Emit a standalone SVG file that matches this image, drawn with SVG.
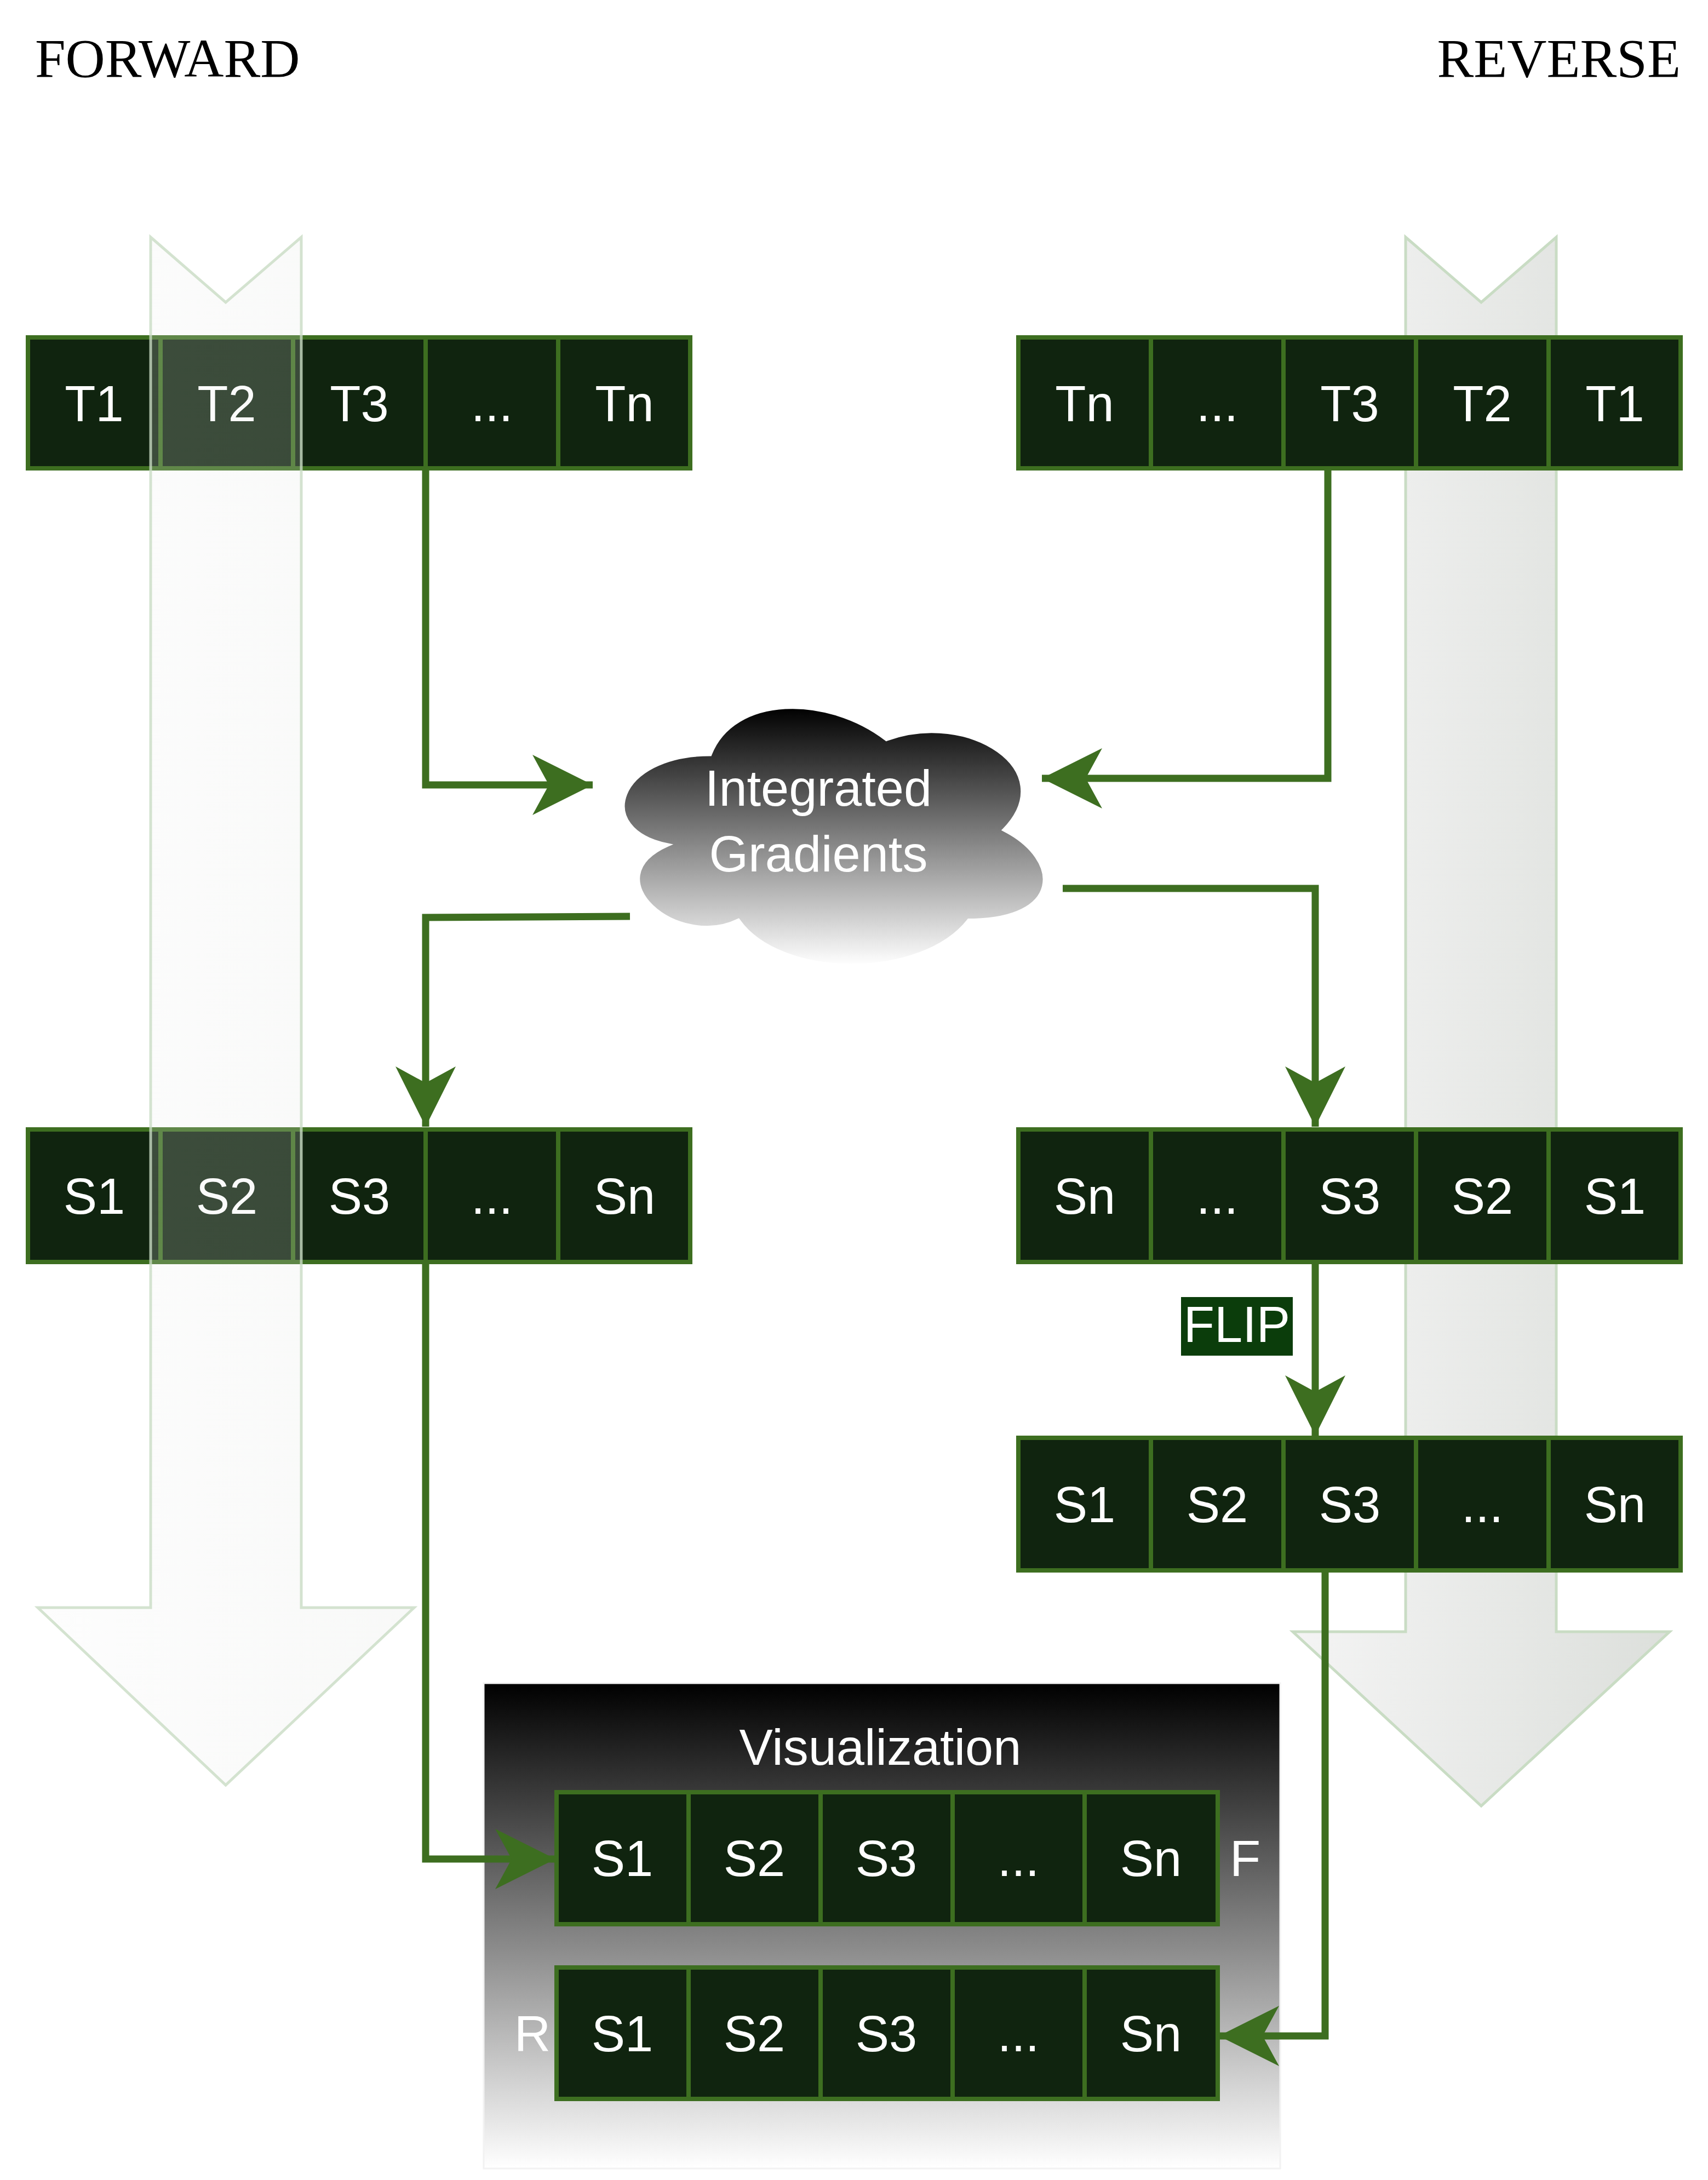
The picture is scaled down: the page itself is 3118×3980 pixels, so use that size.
<svg xmlns="http://www.w3.org/2000/svg" width="3118" height="3980" viewBox="0 0 3118 3980">
<style>
.cell{fill:#10240f;stroke:#3d6e20;stroke-width:8}
.ct{font-family:"Liberation Sans",Arial,sans-serif;font-size:92px;fill:#fff;text-anchor:middle}
.ttl{font-family:"Liberation Serif","Times New Roman",serif;font-size:100px;fill:#000}
.con{fill:none;stroke:#3d6e20;stroke-width:13;marker-end:url(#ah)}
.big{stroke:#c9dcc4;stroke-width:5}
</style>
<defs>
<marker id="ah" markerUnits="userSpaceOnUse" markerWidth="120" markerHeight="120" viewBox="0 -60 120 120" refX="110" refY="0" orient="auto">
<path d="M0,-55 L110,0 L0,55 L30,0 Z" fill="#3d6e20"/>
</marker>
<linearGradient id="ga" x1="0" y1="0" x2="1" y2="0"><stop offset="0" stop-color="#f4f4f4"/><stop offset="1" stop-color="#dcdfdb"/></linearGradient>
<linearGradient id="gv" x1="0" y1="0" x2="0" y2="1"><stop offset="0" stop-color="#000"/><stop offset="1" stop-color="#fff"/></linearGradient>
</defs>
<text class="ttl" x="64" y="140">FORWARD</text>
<text class="ttl" x="3068" y="140" text-anchor="end">REVERSE</text>

<g id="rev-arrow"><path class="big" fill="url(#ga)" d="M2566,433 L2704,552 L2841,433 L2841,2979 L3048,2979 L2704,3297 L2360,2979 L2566,2979 Z"/></g>

<g id="t-fwd">
<rect class="cell" x="51" y="616" width="242" height="239"/><text class="ct" x="172" y="769">T1</text>
<rect class="cell" x="293" y="616" width="242" height="239"/><text class="ct" x="414" y="769">T2</text>
<rect class="cell" x="535" y="616" width="242" height="239"/><text class="ct" x="656" y="769">T3</text>
<rect class="cell" x="777" y="616" width="242" height="239"/><text class="ct" x="898" y="769">...</text>
<rect class="cell" x="1019" y="616" width="241" height="239"/><text class="ct" x="1140" y="769">Tn</text>
</g>
<g id="s-fwd">
<rect class="cell" x="51" y="2062" width="242" height="242"/><text class="ct" x="172" y="2216">S1</text>
<rect class="cell" x="293" y="2062" width="242" height="242"/><text class="ct" x="414" y="2216">S2</text>
<rect class="cell" x="535" y="2062" width="242" height="242"/><text class="ct" x="656" y="2216">S3</text>
<rect class="cell" x="777" y="2062" width="242" height="242"/><text class="ct" x="898" y="2216">...</text>
<rect class="cell" x="1019" y="2062" width="241" height="242"/><text class="ct" x="1140" y="2216">Sn</text>
</g>
<g id="fwd-arrow"><path class="big" fill="url(#ga)" fill-opacity="0.2" stroke-opacity="0.8" d="M275,433 L412,552 L550,433 L550,2935 L756,2935 L412,3259 L69,2935 L275,2935 Z"/></g>

<g id="t-rev">
<rect class="cell" x="1859" y="616" width="242" height="239"/><text class="ct" x="1980" y="769">Tn</text>
<rect class="cell" x="2101" y="616" width="242" height="239"/><text class="ct" x="2222" y="769">...</text>
<rect class="cell" x="2343" y="616" width="242" height="239"/><text class="ct" x="2464" y="769">T3</text>
<rect class="cell" x="2585" y="616" width="242" height="239"/><text class="ct" x="2706" y="769">T2</text>
<rect class="cell" x="2827" y="616" width="241" height="239"/><text class="ct" x="2948" y="769">T1</text>
</g>
<g id="s-rev">
<rect class="cell" x="1859" y="2062" width="242" height="242"/><text class="ct" x="1980" y="2216">Sn</text>
<rect class="cell" x="2101" y="2062" width="242" height="242"/><text class="ct" x="2222" y="2216">...</text>
<rect class="cell" x="2343" y="2062" width="242" height="242"/><text class="ct" x="2464" y="2216">S3</text>
<rect class="cell" x="2585" y="2062" width="242" height="242"/><text class="ct" x="2706" y="2216">S2</text>
<rect class="cell" x="2827" y="2062" width="241" height="242"/><text class="ct" x="2948" y="2216">S1</text>
</g>
<g id="s-flip">
<rect class="cell" x="1859" y="2625" width="242" height="242"/><text class="ct" x="1980" y="2779">S1</text>
<rect class="cell" x="2101" y="2625" width="242" height="242"/><text class="ct" x="2222" y="2779">S2</text>
<rect class="cell" x="2343" y="2625" width="242" height="242"/><text class="ct" x="2464" y="2779">S3</text>
<rect class="cell" x="2585" y="2625" width="242" height="242"/><text class="ct" x="2706" y="2779">...</text>
<rect class="cell" x="2827" y="2625" width="241" height="242"/><text class="ct" x="2948" y="2779">Sn</text>
</g>

<g id="cloud">
<path fill="url(#gv)" stroke="#fff" stroke-width="6" d="M1296.5,1377.5 C1124.9,1377.5 1082,1515 1219.3,1542.5 C1082,1603 1236.4,1735 1348,1680 C1425.2,1790 1682.6,1790 1768.4,1680 C1940,1680 1940,1570 1832.75,1515 C1940,1405 1768.4,1295 1618.25,1350 C1511,1267.5 1339.4,1267.5 1296.5,1377.5 Z"/>
<text class="ct" x="1494" y="1471" font-size="88">Integrated</text>
<text class="ct" x="1494" y="1591" font-size="88">Gradients</text>
</g>

<g id="vis">
<rect x="883" y="3073" width="1454" height="886" fill="url(#gv)" stroke="#f2f2f2" stroke-width="3"/>
<text class="ct" x="1607" y="3222" font-size="88">Visualization</text>
<rect class="cell" x="1016" y="3272" width="241" height="241"/><text class="ct" x="1136" y="3425">S1</text>
<rect class="cell" x="1257" y="3272" width="241" height="241"/><text class="ct" x="1377" y="3425">S2</text>
<rect class="cell" x="1498" y="3272" width="241" height="241"/><text class="ct" x="1618" y="3425">S3</text>
<rect class="cell" x="1739" y="3272" width="241" height="241"/><text class="ct" x="1859" y="3425">...</text>
<rect class="cell" x="1980" y="3272" width="243" height="241"/><text class="ct" x="2101" y="3425">Sn</text>
<rect class="cell" x="1016" y="3592" width="241" height="240"/><text class="ct" x="1136" y="3745">S1</text>
<rect class="cell" x="1257" y="3592" width="241" height="240"/><text class="ct" x="1377" y="3745">S2</text>
<rect class="cell" x="1498" y="3592" width="241" height="240"/><text class="ct" x="1618" y="3745">S3</text>
<rect class="cell" x="1739" y="3592" width="241" height="240"/><text class="ct" x="1859" y="3745">...</text>
<rect class="cell" x="1980" y="3592" width="243" height="240"/><text class="ct" x="2101" y="3745">Sn</text>
<text class="ct" x="2273" y="3425">F</text>
<text class="ct" x="972" y="3745" fill="#eeeeee">R</text>
</g>

<g id="connectors">
<path class="con" d="M777,855 L777,1433 L1082,1433"/>
<path class="con" d="M2424,855 L2424,1421 L1902,1421"/>
<path class="con" d="M1150,1673 L777,1675 L777,2057"/>
<path class="con" d="M1940,1622 L2401,1622 L2401,2057"/>
<path class="con" d="M777,2304 L777,3394 L1014,3394"/>
<path class="con" d="M2401,2304 L2401,2621"/>
<path class="con" d="M2419,2867 L2419,3717 L2225,3717"/>
</g>
<g id="flip">
<rect x="2156" y="2368" width="204" height="107" fill="#0b3d0b"/>
<text class="ct" x="2258" y="2450" font-size="82">FLIP</text>
</g>
</svg>
